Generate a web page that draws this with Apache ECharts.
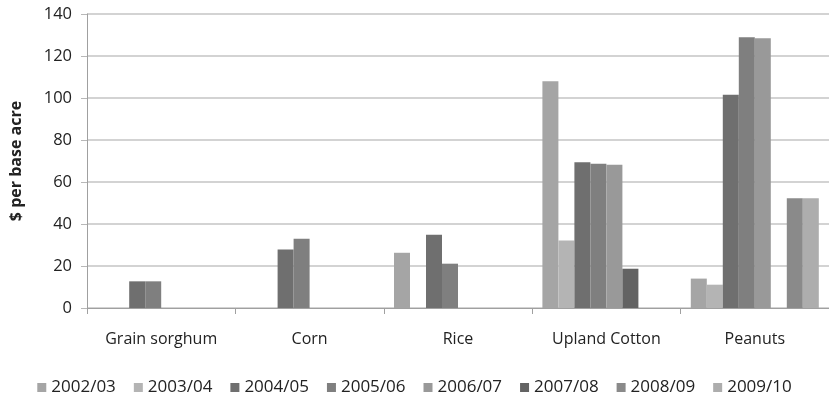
<!DOCTYPE html>
<html>
<head>
<meta charset="utf-8">
<script src="https://cdn.jsdelivr.net/npm/echarts@6/dist/echarts.min.js"></script>
<style>
html,body{margin:0;padding:0;background:#fff;}
#chart{width:829px;height:402px;}
</style>
</head>
<body>
<div id="chart"></div>
<script>
const categories = ['Grain sorghum', 'Corn', 'Rice', 'Upland Cotton', 'Peanuts'];
const seriesNames = ['2002/03', '2003/04', '2004/05', '2005/06', '2006/07', '2007/08', '2008/09', '2009/10'];
const s2002 = [null, null, 26.3, 108, 14.0];
const s2003 = [null, null, null, 32.2, 11.1];
const s2004 = [12.7, 27.8, 34.9, 69.4, 101.6];
const s2005 = [12.7, 33.0, 21.1, 68.7, 128.9];
const s2006 = [null, null, null, 68.2, 128.4];
const s2007 = [null, null, null, 18.7, null];
const s2008 = [null, null, null, null, 52.3];
const s2009 = [null, null, null, null, 52.3];
const yTicks = [0, 20, 40, 60, 80, 100, 120, 140];

const seriesData = [s2002, s2003, s2004, s2005, s2006, s2007, s2008, s2009];
const colors = ['#a5a5a5', '#b4b4b4', '#6f6f6f', '#7f7f7f', '#999999', '#636363', '#8a8a8a', '#adadad'];
const FONT = 'Open Sans';

const chart = echarts.init(document.getElementById('chart'), null, {renderer: 'canvas'});
chart.setOption({
  animation: false,
  backgroundColor: '#ffffff',
  color: colors,
  grid: {left: 86, top: 14, width: 747, bottom: 94, containLabel: false},
  legend: {
    data: seriesNames,
    left: 'center',
    top: 374,
    itemWidth: 9,
    itemHeight: 9,
    itemGap: 18,
    icon: 'rect',
    textStyle: {fontFamily: FONT, fontSize: 17, color: '#222'}
  },
  xAxis: {
    type: 'category',
    data: categories,
    axisLine: {show: true, lineStyle: {color: '#a0a0a0', width: 1}},
    axisTick: {show: true, length: 6, lineStyle: {color: '#a0a0a0'}},
    axisLabel: {fontFamily: FONT, fontSize: 16, color: '#222', margin: 23}
  },
  yAxis: {
    type: 'value',
    min: yTicks[0],
    max: yTicks[yTicks.length - 1],
    interval: 20,
    name: '$ per base acre',
    nameLocation: 'middle',
    nameGap: 63,
    nameTextStyle: {fontFamily: FONT, fontSize: 16, fontWeight: 'bold', color: '#222'},
    axisLine: {show: true, lineStyle: {color: '#a0a0a0', width: 1}},
    axisTick: {show: true, length: 6, lineStyle: {color: '#b8b8b8'}},
    axisLabel: {fontFamily: FONT, fontSize: 16.5, color: '#222', margin: 15},
    splitLine: {show: true, lineStyle: {color: '#c4c4c4', width: 1.5}}
  },
  series: seriesNames.map((name, i) => ({
    name: name,
    type: 'bar',
    data: seriesData[i],
    barWidth: 16,
    barGap: '0%',
    itemStyle: {color: colors[i]}
  }))
});
</script>
</body>
</html>
